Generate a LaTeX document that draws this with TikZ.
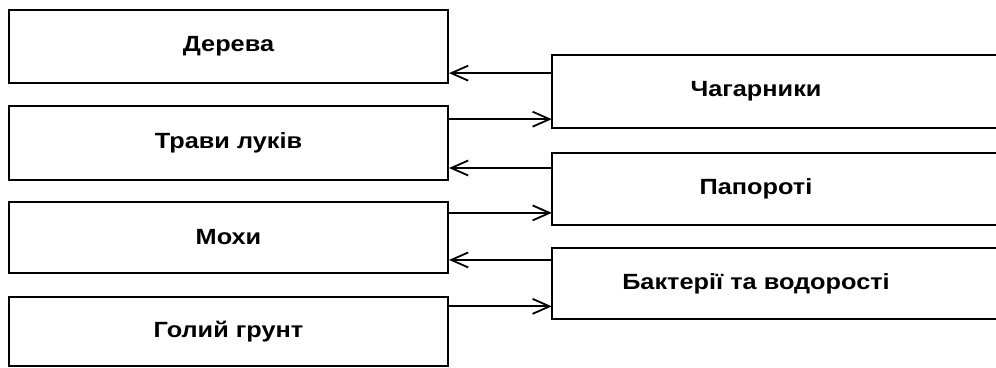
\documentclass[tikz,border=0pt]{standalone}
\usepackage{fontspec}
\newfontfamily\labelfont[FakeStretch=1.15]{Liberation Sans}
\usetikzlibrary{arrows.meta,calc}

\tikzset{
  stage/.style={draw, line width=2pt, rectangle, minimum width=439pt,
    font=\labelfont\bfseries\fontsize{22}{26}\selectfont, inner sep=0pt},
  openstage/.style={rectangle, minimum width=408pt, inner sep=0pt,
    font=\labelfont\bfseries\fontsize{22}{26}\selectfont},
  edge/.style={line width=2pt},
  flow/.style={line width=1.8pt, -{Straight Barb[length=17pt,width=15pt,line width=1.8pt]}}
}

\begin{document}
\begin{tikzpicture}[x=1pt, y=-1pt]
  \useasboundingbox (0,0) rectangle (996,367);
  \clip (0,0) rectangle (996,367);

  % left column
  \node[stage, minimum height=73pt] (trees)  at (228.5,46.5) {Дерева};
  \node[stage, minimum height=74pt] (grass)  at (228.5,143)  {Трави луків};
  \node[stage, minimum height=71pt] (moss)   at (228.5,237.5){Мохи};
  \node[stage, minimum height=69pt] (ground) at (228.5,331.5){Голий грунт};

  % right column (boxes run past the right edge)
  \node[openstage, minimum height=73pt] (shrubs) at (756,91.5)  {Чагарники};
  \node[openstage, minimum height=72pt] (ferns)  at (756,189)   {Папороті};
  \node[openstage, minimum height=71pt] (algae)  at (756,283.5) {Бактерії та водорості};
  \foreach \n in {shrubs,ferns,algae}
    \draw[edge] ($(\n.north east)+(60,0)$) -- (\n.north west) -- (\n.south west) -- ($(\n.south east)+(60,0)$);

  % succession links
  \draw[flow] ($(shrubs.north west)!.25!(shrubs.south west)$) coordinate (a1) -- (a1 -| trees.east);
  \draw[flow] ($(shrubs.north west)!.877!(shrubs.south west)$) coordinate (a2) (a2 -| grass.east) -- (a2);
  \draw[flow] ($(ferns.north west)!.21!(ferns.south west)$) coordinate (a3) -- (a3 -| grass.east);
  \draw[flow] ($(ferns.north west)!.83!(ferns.south west)$) coordinate (a4) (a4 -| moss.east) -- (a4);
  \draw[flow] ($(algae.north west)!.17!(algae.south west)$) coordinate (a5) -- (a5 -| moss.east);
  \draw[flow] ($(algae.north west)!.82!(algae.south west)$) coordinate (a6) (a6 -| ground.east) -- (a6);
\end{tikzpicture}
\end{document}
